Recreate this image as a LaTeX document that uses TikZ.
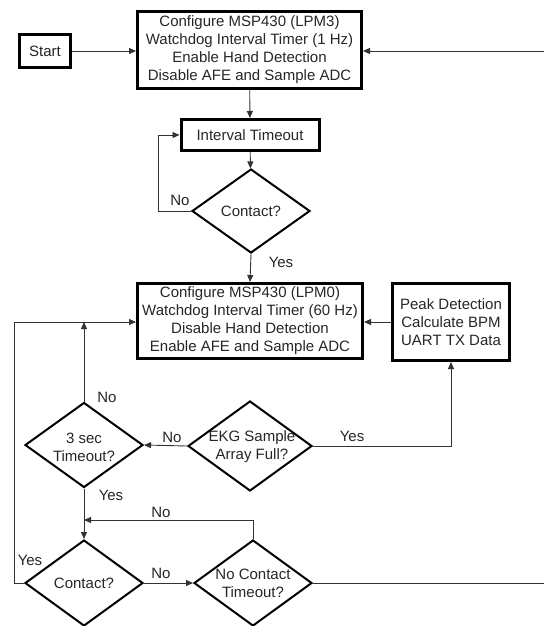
\documentclass[tikz,border=0pt]{standalone}
\usepackage{fontspec}
\setmainfont{Liberation Sans}
\usetikzlibrary{shapes.geometric,arrows.meta}
\begin{document}
\begin{tikzpicture}[x=1pt,y=-1pt,
  txt/.style={font=\fontsize{15}{18}\selectfont, text=black!85},
  box/.style={txt, draw=black, line width=3pt, align=center, inner sep=0pt},
  dia/.style={diamond, draw=black, line width=2pt, inner sep=0pt},
  dtxt/.style={txt, align=center, inner sep=0pt},
  arr/.style={draw=black!80, line width=0.9pt, -{Triangle[length=7pt,width=6pt]}},
  ln/.style={draw=black!80, line width=0.9pt},
  lbl/.style={txt, inner sep=0pt}]
\useasboundingbox (0,0) rectangle (544,626);

\node[box, minimum width=51pt, minimum height=33pt] (st) at (45,51) {Start};
\node[box, minimum width=224pt, minimum height=77pt] (c1) at (249.5,50) {Configure MSP430 (LPM3)\\Watchdog Interval Timer (1 Hz)\\Enable Hand Detection\\Disable AFE and Sample ADC};
\node[box, minimum width=138pt, minimum height=31pt] (it) at (250,135) {Interval Timeout};
\node[dia, minimum width=118pt, minimum height=84pt] (d1) at (251,211) {};
\node[dtxt] (d1t) at (d1) {Contact?};
\node[box, minimum width=225pt, minimum height=75pt] (c2) at (250,321) {Configure MSP430 (LPM0)\\Watchdog Interval Timer (60 Hz)\\Disable Hand Detection\\Enable AFE and Sample ADC};
\node[box, minimum width=117pt, minimum height=77pt] (pk) at (451,322) {Peak Detection\\Calculate BPM\\UART TX Data};
\node[dia, minimum width=118pt, minimum height=85pt] (d3) at (84,445) {};
\node[dtxt] (d3t) at (84,447) {3 sec\\Timeout?};
\node[dia, minimum width=124pt, minimum height=90pt] (ekg) at (250,446) {};
\node[dtxt] (ekgt) at (252,447) {EKG Sample\\Array Full?};
\node[dia, minimum width=118pt, minimum height=86pt] (d4) at (84,583) {};
\node[dtxt] (d4t) at (d4) {Contact?};
\node[dia, minimum width=118pt, minimum height=86pt] (d5) at (253,583) {};
\node[dtxt] (d5t) at (d5) {No Contact\\Timeout?};

\coordinate (rtop) at (544,51);
\coordinate (rbot) at (544,583);
\coordinate (lp1) at (158,211);
\coordinate (j1) at (84,322);
\coordinate (lx) at (14,583);
\coordinate (j2) at (84,520);

\draw[arr] (st.east) -- (st.east -| c1.west);
\draw[arr] (rtop) -- (rtop -| c1.east);
\draw[arr] (c1) -- (it);
\draw[arr] (it) -- (d1);
\draw[arr] (d1.west) -- (lp1) |- (it.west);
\draw[arr] (d1.south) -- (c2.north);
\draw[arr] (pk.west) -- (pk.west -| c2.east);
\draw[arr] (ekg.west) -- (d3.east);
\draw[arr] (ekg.east) -| (pk.south);
\draw[arr] (d3.north) -- (j1);
\draw[arr] (d4.west) -- (lx) |- (j1 -| c2.west);
\draw[arr] (d3.south) -- (d4.north);
\draw[arr] (d5.north) |- (j2);
\draw[arr] (d4.east) -- (d5.west);
\draw[ln] (d5.east) -- (rbot);

\node[lbl] (l1) at (180,200) {No};
\node[lbl] (l2) at (281,262) {Yes};
\node[lbl] (l3) at (107,397) {No};
\node[lbl] (l4) at (172,437) {No};
\node[lbl] (l5) at (352,436) {Yes};
\node[lbl] (l6) at (111,495) {Yes};
\node[lbl] (l7) at (161,512) {No};
\node[lbl] (l8) at (161,573) {No};
\node[lbl] (l9) at (30,560) {Yes};
\end{tikzpicture}
\end{document}
